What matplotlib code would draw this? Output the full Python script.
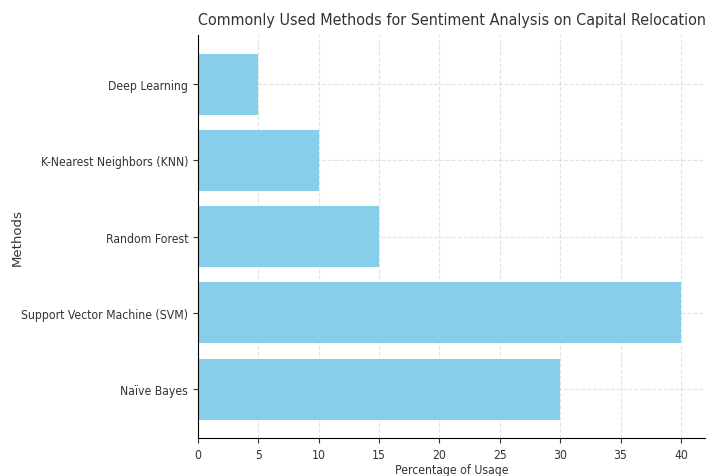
import matplotlib
matplotlib.use("Agg")
import matplotlib.pyplot as plt

# Data
methods = ['Naïve Bayes', 'Support Vector Machine (SVM)', 'Random Forest',
           'K-Nearest Neighbors (KNN)', 'Deep Learning']
usage = [30, 40, 15, 10, 5]
x_ticks = [0, 5, 10, 15, 20, 25, 30, 35, 40]

plt.rcParams['font.family'] = 'DejaVu Sans'
plt.rcParams['font.stretch'] = 'condensed'

fig, ax = plt.subplots(figsize=(7.09, 4.77), dpi=100)
ax.barh(methods, usage, color='skyblue')

ax.set_title('Commonly Used Methods for Sentiment Analysis on Capital Relocation',
             fontsize=11.5, color='#333333', pad=8)
ax.set_xlabel('Percentage of Usage', fontsize=8.7, color='#333333', labelpad=2)
ax.set_ylabel('Methods', fontsize=9.5, color='#333333', stretch='normal')
ax.yaxis.set_label_coords(-0.343, 0.5)
ax.set_xticks(x_ticks)
ax.tick_params(labelsize=8.7, colors='#333333')
ax.grid(True, linestyle='--', alpha=0.35)
ax.set_axisbelow(True)

ax.spines['top'].set_visible(False)
ax.spines['right'].set_visible(False)

plt.subplots_adjust(left=0.2793, right=0.9944, top=0.924, bottom=0.080)
plt.savefig('out.png', dpi=100)
plt.close()
